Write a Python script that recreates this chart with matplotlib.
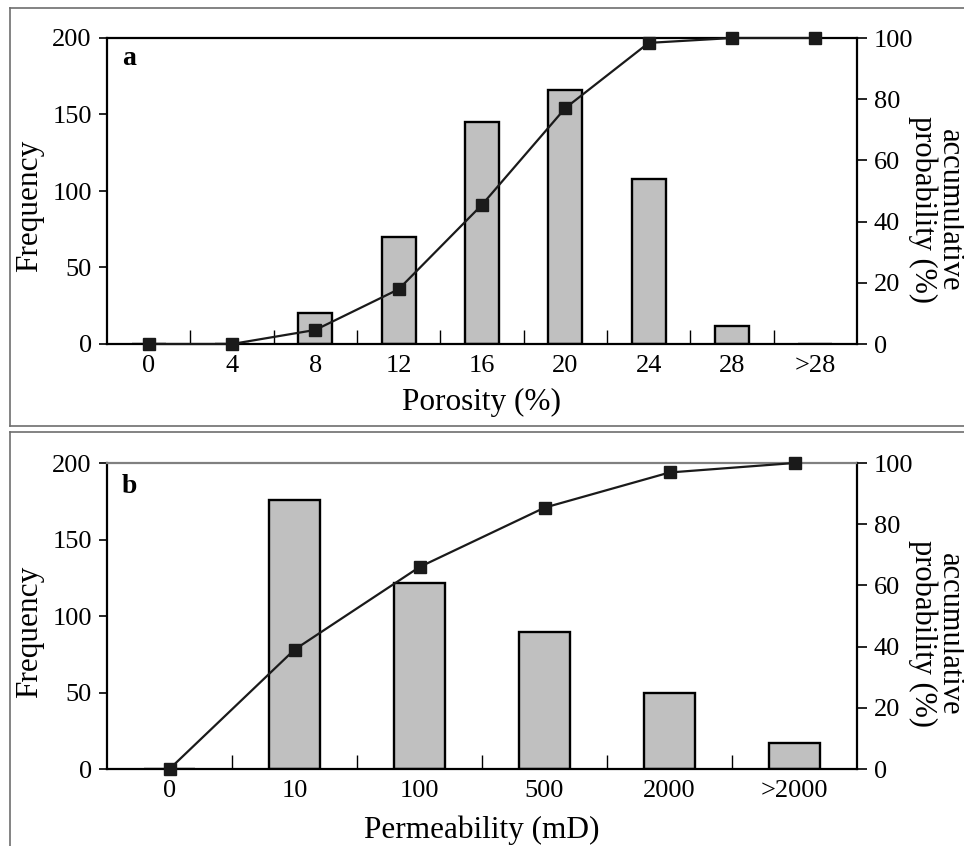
import matplotlib
matplotlib.use("Agg")
import matplotlib.pyplot as plt
from matplotlib.lines import Line2D
import numpy as np

plt.rcParams['font.family'] = ['Liberation Serif', 'DejaVu Serif']

# Panel a data
por_labels = ['0', '4', '8', '12', '16', '20', '24', '28', '>28']
por_freq = [0, 0, 20, 70, 145, 166, 108, 12, 0]
por_cum = [0, 0, 4.6, 17.9, 45.5, 77.1, 98.4, 100, 100]

# Panel b data
perm_labels = ['0', '10', '100', '500', '2000', '>2000']
perm_freq = [0, 175.5, 121.5, 89.5, 49.5, 17.2]
perm_cum = [0, 39.0, 66.0, 85.4, 96.9, 100]

W, H = 964, 846
fig = plt.figure(figsize=(W / 100, H / 100), dpi=100)

def px_axes(left, top, right, bottom):
    return fig.add_axes([left / W, 1 - bottom / H, (right - left) / W, (bottom - top) / H])

def panel(ax, labels, freq, cum, letter, letter_y, top_spine_color):
    n = len(labels)
    x = np.arange(n)
    ax.bar(x, freq, width=0.41, color='#c0c0c0', edgecolor='black', linewidth=1.7, zorder=2)
    ax.set_xlim(-0.5, n - 0.5)
    ax.set_ylim(0, 200)
    ax.set_yticks([0, 50, 100, 150, 200])
    ax.set_xticks(x)
    ax.set_xticklabels(labels)
    ax.set_xticks(np.arange(0.5, n - 1, 1.0), minor=True)
    ax.tick_params(axis='x', which='major', length=0, pad=8, labelsize=19)
    ax.tick_params(axis='x', which='minor', direction='in', length=10, width=1.0)
    ax.tick_params(axis='y', which='major', direction='out', length=6, width=1.2, pad=5, labelsize=19)
    for s in ['left', 'bottom', 'right']:
        ax.spines[s].set_linewidth(1.6)
    ax.spines['top'].set_linewidth(1.6)
    ax.spines['top'].set_color(top_spine_color)
    ax.text(0.02, letter_y, letter, transform=ax.transAxes, fontsize=20, fontweight='bold',
            ha='left', va='baseline')
    ax2 = ax.twinx()
    ax2.set_ylim(0, 100)
    ax2.set_yticks([0, 20, 40, 60, 80, 100])
    ax2.tick_params(axis='y', direction='out', length=7, width=1.2, pad=5, labelsize=19)
    for s in ax2.spines.values():
        s.set_visible(False)
    ax2.plot(x, cum, color='#1a1a1a', linewidth=1.6, marker='s', markersize=8,
             markerfacecolor='#1a1a1a', markeredgecolor='#1a1a1a', clip_on=False, zorder=3)
    return ax2

# Panel a
axa = px_axes(107, 38, 857, 344)
panel(axa, por_labels, por_freq, por_cum, 'a', 0.912, 'black')
fig.text(482 / W, 1 - 402 / H, 'Porosity (%)', ha='center', va='center', fontsize=22.5)
fig.text(30 / W, 1 - 206 / H, 'Frequency', ha='center', va='center', rotation=90, fontsize=22.5)
fig.text(936 / W, 1 - 210 / H, 'accumulative\nprobability (%)', ha='center', va='center',
         rotation=270, fontsize=22, linespacing=0.9, multialignment='center')

# Panel b
axb = px_axes(107, 463, 857, 769)
panel(axb, perm_labels, perm_freq, perm_cum, 'b', 0.902, '#808080')
fig.text(482 / W, 1 - 830 / H, 'Permeability (mD)', ha='center', va='center', fontsize=22.5)
fig.text(30 / W, 1 - 632 / H, 'Frequency', ha='center', va='center', rotation=90, fontsize=22.5)
fig.text(936 / W, 1 - 634 / H, 'accumulative\nprobability (%)', ha='center', va='center',
         rotation=270, fontsize=22, linespacing=0.9, multialignment='center')

# Panel frames
gray = '#6e6e6e'
def fline(x0, y0, x1, y1):
    fig.add_artist(Line2D([x0 / W, x1 / W], [1 - y0 / H, 1 - y1 / H], color=gray, linewidth=1.2,
                          transform=fig.transFigure))
fline(10, 8, 964, 8)
fline(10, 8, 10, 426)
fline(10, 426, 964, 426)
fline(10, 432, 964, 432)
fline(10, 432, 10, 846)

fig.savefig('out.png', dpi=100)
